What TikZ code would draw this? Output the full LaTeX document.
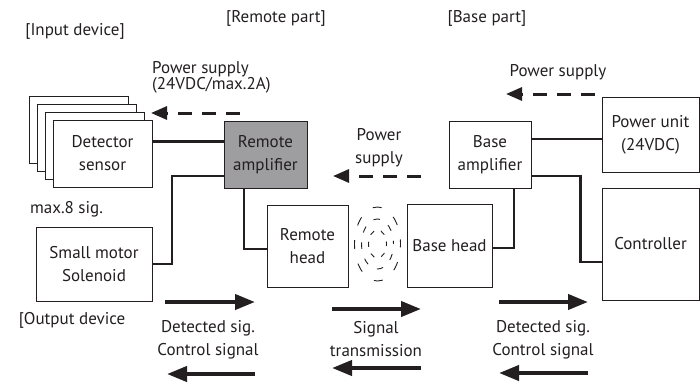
\documentclass[tikz,border=0pt]{standalone}
\usepackage{fontspec}
\setmainfont{PT Sans}
\usetikzlibrary{arrows.meta}
\definecolor{ampgray}{RGB}{158,158,160}
\definecolor{ink}{RGB}{35,31,32}
\begin{document}
\begin{tikzpicture}[x=1pt,y=-1pt,
  box/.style={draw=ink, line width=0.9pt, fill=white, inner sep=0pt, align=center, text=ink,
    font=\fontsize{17}{23}\selectfont},
  conn/.style={line width=2.4pt, draw=ink},
  darr/.style={line width=3pt, draw=ink, dash pattern=on 14pt off 10pt,
    -{Triangle[length=16pt,width=13pt,fill=ink]}},
  sarr/.style={line width=4pt, draw=ink, -{Triangle[length=20pt,width=15pt,fill=ink]}},
  lbl/.style={font=\fontsize{17}{23}\selectfont, align=center, inner sep=0pt, text=ink},
  wave/.style={line width=0.9pt, draw=ink}
]
\useasboundingbox (0,0) rectangle (700,383);

% detector stack
\node[box, minimum width=99pt, minimum height=67pt] (d1) at (78.5,129.5) {};
\node[box, minimum width=99pt, minimum height=67pt] (d2) at (86.5,137.5) {};
\node[box, minimum width=99pt, minimum height=67pt] (d3) at (94.5,145.5) {};
\node[box, minimum width=99pt, minimum height=67pt] (d4) at (102.5,153.5) {Detector\\sensor};

\node[box, fill=ampgray, minimum width=83pt, minimum height=67pt] (ra) at (265.5,154.5) {Remote\\amplifier};
\node[box, minimum width=116pt, minimum height=74pt] (sm) at (94,264) {Small motor\\Solenoid};
\node[box, minimum width=81pt, minimum height=82pt] (rh) at (307.5,246) {Remote\\head};
\node[box, minimum width=85pt, minimum height=83pt] (bh) at (449.5,245.5) {Base head};
\node[box, minimum width=82pt, minimum height=67pt] (ba) at (490,154.5) {Base\\amplifier};
\node[box, minimum width=97pt, minimum height=75pt] (pu) at (650.5,134.5) {Power unit\\(24VDC)};
\node[box, minimum width=97pt, minimum height=112pt] (ctl) at (650.5,244) {Controller};

% connectors
\draw[conn] ([yshift=12pt]d4.east) -- ([yshift=13pt]ra.west);
\draw[conn] ([yshift=-21.5pt]ra.west) -- ++(-51.5,0) |- (sm.east);
\draw[conn] ([yshift=-3pt]rh.west) -| ([xshift=-21.5pt]ra.south);
\draw[conn] ([yshift=-2.5pt]bh.east) -| ([xshift=24pt]ba.south);
\draw[conn] ([yshift=15.5pt]ba.east) -- ([yshift=-4.5pt]pu.west);
\draw[conn] ([yshift=-21.5pt]ba.east) -- ++(49,0) |- ([yshift=-18pt]ctl.west);

% radio waves
\node[inner sep=0pt, minimum size=0pt] (wv) at (377.5,244) {};
\draw[wave, dash pattern=on 9pt off 15pt, dash phase=4.5pt] (wv) ellipse [x radius=23pt, y radius=37pt];
\draw[wave, dash pattern=on 6.5pt off 10.2pt, dash phase=3.25pt] (wv) ellipse [x radius=16pt, y radius=25pt];
\draw[wave, dash pattern=on 5pt off 7.2pt, dash phase=2.5pt] (wv) ellipse [x radius=9pt, y radius=14pt];

% dashed power arrows
\coordinate (p1s) at (240,113); \coordinate (p1e) at (151,113);
\coordinate (p2s) at (421,176); \coordinate (p2e) at (333,176);
\coordinate (p3s) at (595,94);  \coordinate (p3e) at (506,94);
\draw[darr] (p1s) -- (p1e);
\draw[darr] (p2s) -- (p2e);
\draw[darr] (p3s) -- (p3e);

% solid signal arrows
\coordinate (a1s) at (165,302); \coordinate (a1e) at (255,302);
\coordinate (a2s) at (255,374); \coordinate (a2e) at (167,374);
\coordinate (a3s) at (332,309); \coordinate (a3e) at (421,309);
\coordinate (a4s) at (421,368); \coordinate (a4e) at (332,368);
\coordinate (a5s) at (499,302); \coordinate (a5e) at (588,302);
\coordinate (a6s) at (588,373); \coordinate (a6e) at (499,373);
\draw[sarr] (a1s) -- (a1e);
\draw[sarr] (a2s) -- (a2e);
\draw[sarr] (a3s) -- (a3e);
\draw[sarr] (a4s) -- (a4e);
\draw[sarr] (a5s) -- (a5e);
\draw[sarr] (a6s) -- (a6e);

% labels
\node[lbl] (tin) at (75,31) {[Input device]};
\node[lbl] (trp) at (276,18) {[Remote part]};
\node[lbl] (tbp) at (487,18) {[Base part]};
\node[lbl, anchor=west, align=left, font=\fontsize{17}{16}\selectfont] (tps1) at (152,77) {Power supply\\(24VDC/max.2A)};
\node[lbl] (tps2) at (379,148) {Power\\supply};
\node[lbl] (tps3) at (558,72) {Power supply};
\node[lbl] (tmax) at (66.5,209) {max.8 sig.};
\node[lbl] (tout) at (72,320) {[Output device};
\node[lbl] (tb1) at (208,340) {Detected sig.\\Control signal};
\node[lbl] (tb2) at (376,339) {Signal\\transmission};
\node[lbl] (tb3) at (543,340) {Detected sig.\\Control signal};
\end{tikzpicture}
\end{document}
